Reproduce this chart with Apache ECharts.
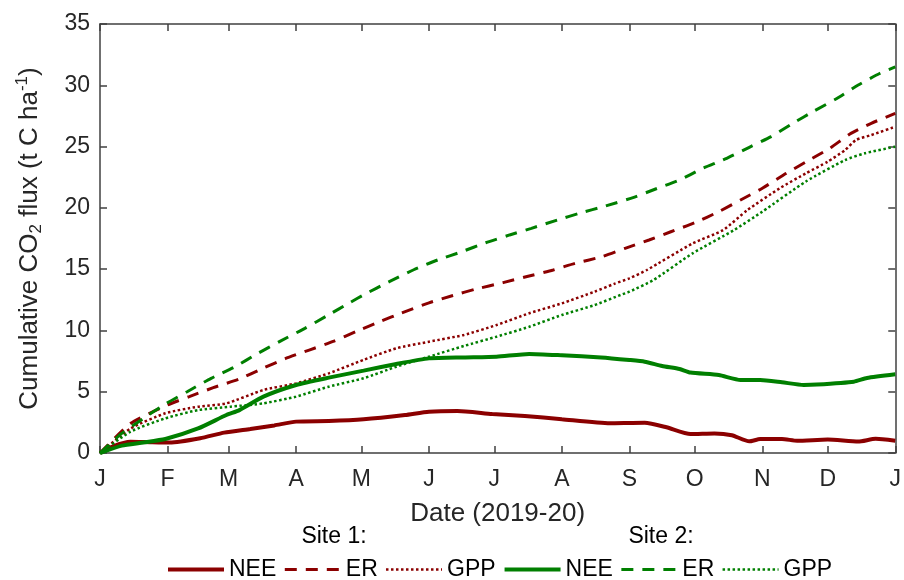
<!DOCTYPE html>
<html>
<head>
<meta charset="utf-8">
<script src="https://cdn.jsdelivr.net/npm/echarts@6/dist/echarts.min.js"></script>
<style>html,body{margin:0;padding:0;background:#fff}#c{width:904px;height:580px}</style>
</head>
<body>
<div id="c"></div>
<script>
// ---- data (day of year, cumulative flux t C/ha) ----
const monthStarts = [0, 31, 59, 90, 120, 151, 181, 212, 243, 273, 304, 334, 365];
const monthLabels = ['J', 'F', 'M', 'A', 'M', 'J', 'J', 'A', 'S', 'O', 'N', 'D', 'J'];
const yTicksMin = 0, yTicksMax = 35, yTickStep = 5;

const s1NeeDays = [0, 6, 14, 23, 32, 46, 57, 69, 80, 90, 105, 121, 140, 151, 164, 180, 195, 212, 234, 243, 250, 260, 271, 282, 290, 298, 303, 313, 320, 334, 348, 356, 365];
const s1NeeVals = [0, 0.55, 0.92, 0.88, 0.85, 1.2, 1.66, 1.96, 2.25, 2.56, 2.61, 2.75, 3.1, 3.37, 3.43, 3.18, 3.02, 2.75, 2.42, 2.45, 2.47, 2.1, 1.55, 1.6, 1.45, 0.95, 1.14, 1.14, 1.0, 1.1, 0.93, 1.16, 1.0];

const s1ErDays = [0, 14, 31, 41, 52, 64, 74, 85, 96, 107, 118, 129, 138, 151, 162, 172, 185, 196, 208, 218, 230, 241, 252, 262, 273, 284, 294, 304, 315, 325, 335, 344, 354, 365];
const s1ErVals = [0, 2.4, 3.92, 4.6, 5.33, 6.04, 6.85, 7.7, 8.4, 9.1, 9.95, 10.75, 11.4, 12.25, 12.85, 13.35, 13.9, 14.4, 14.93, 15.47, 16.0, 16.7, 17.38, 18.05, 18.79, 19.69, 20.64, 21.6, 22.82, 23.85, 24.86, 26.0, 26.9, 27.7];

const s1GppDays = [0, 14, 30, 45, 58, 75, 90, 105, 121, 136, 151, 167, 182, 197, 212, 227, 236, 243, 251, 272, 286, 297, 312, 324, 334, 342, 347, 354, 365];
const s1GppVals = [0, 2.0, 3.24, 3.78, 4.05, 5.14, 5.68, 6.5, 7.6, 8.54, 9.08, 9.63, 10.44, 11.4, 12.21, 13.16, 13.8, 14.25, 14.93, 17.1, 18.19, 19.8, 21.6, 22.82, 23.77, 24.72, 25.54, 25.94, 26.62];

const s2NeeDays = [0, 10, 19, 30, 45, 58, 64, 75, 90, 105, 121, 136, 151, 167, 182, 197, 212, 230, 243, 250, 258, 266, 271, 284, 294, 303, 313, 323, 329, 346, 352, 365];
const s2NeeVals = [0, 0.6, 0.84, 1.14, 2.0, 3.1, 3.5, 4.6, 5.55, 6.15, 6.72, 7.26, 7.72, 7.8, 7.86, 8.08, 7.97, 7.8, 7.59, 7.45, 7.1, 6.85, 6.56, 6.36, 5.96, 5.96, 5.77, 5.55, 5.58, 5.82, 6.12, 6.42];

const s2ErDays = [0, 10, 20, 30, 40, 51, 62, 72, 83, 94, 104, 115, 121, 133, 144, 155, 166, 177, 188, 198, 210, 220, 232, 245, 255, 266, 276, 287, 298, 308, 318, 328, 338, 348, 358, 365];
const s2ErVals = [0, 1.6, 2.83, 4.0, 5.0, 6.09, 7.04, 8.08, 9.15, 10.17, 11.18, 12.3, 12.9, 14.0, 14.95, 15.75, 16.42, 17.15, 17.79, 18.33, 19.01, 19.56, 20.15, 20.86, 21.54, 22.27, 23.17, 23.99, 24.94, 25.81, 26.9, 27.93, 28.9, 30.02, 30.98, 31.5];

const s2GppDays = [0, 14, 30, 45, 60, 75, 90, 105, 121, 136, 151, 167, 182, 197, 212, 227, 239, 243, 254, 272, 291, 304, 324, 342, 351, 365];
const s2GppVals = [0, 1.74, 2.83, 3.5, 3.78, 4.05, 4.6, 5.41, 6.1, 7.04, 7.86, 8.73, 9.49, 10.3, 11.26, 12.07, 12.9, 13.16, 14.11, 16.29, 18.19, 19.69, 22.15, 23.9, 24.45, 24.99];

const legendNames = ['NEE', 'ER', 'GPP'];
const siteLabels = ['Site 1:', 'Site 2:'];

// ---- build ----
const FONT = '"Liberation Sans", Arial, sans-serif';
const RED = '#8b0000', GREEN = '#007f00';
const AXC = '#404040', TXT = '#262626';
const dayCats = [];
for (let i = 0; i <= 365; i++) dayCats.push(String(i));
const pairs = (d, v) => d.map((x, i) => [x, v[i]]);
const isMonth = (idx) => monthStarts.indexOf(idx) >= 0;

const styles = {
  NEE: { type: 'solid', width: 4 },
  ER: { type: [12, 9], width: 3 },
  GPP: { type: [2.5, 2.5], width: 2.5 }
};
const defs = [
  ['Site 1 NEE', RED, 'NEE', s1NeeDays, s1NeeVals],
  ['Site 1 ER', RED, 'ER', s1ErDays, s1ErVals],
  ['Site 1 GPP', RED, 'GPP', s1GppDays, s1GppVals],
  ['Site 2 NEE', GREEN, 'NEE', s2NeeDays, s2NeeVals],
  ['Site 2 ER', GREEN, 'ER', s2ErDays, s2ErVals],
  ['Site 2 GPP', GREEN, 'GPP', s2GppDays, s2GppVals]
];
const series = defs.map(([name, color, kind, d, v]) => ({
  name, type: 'line', xAxisIndex: 0, yAxisIndex: 0,
  data: pairs(d, v), showSymbol: false, symbol: 'none',
  color, lineStyle: { color, type: styles[kind].type, width: styles[kind].width, cap: 'butt' },
  smooth: 0.2
}));

const xBase = {
  type: 'category', data: dayCats, boundaryGap: false,
  axisLine: { show: true, onZero: false, lineStyle: { color: AXC, width: 1.5 } },
  axisTick: { show: true, inside: true, length: 7, interval: isMonth, lineStyle: { color: AXC, width: 1.5 } },
  splitLine: { show: false }
};
const yBase = {
  type: 'value', min: yTicksMin, max: yTicksMax, interval: yTickStep,
  axisLine: { show: true, lineStyle: { color: AXC, width: 1.5 } },
  axisTick: { show: true, inside: true, length: 7, lineStyle: { color: AXC, width: 1.5 } },
  splitLine: { show: false }
};

const option = {
  animation: false,
  backgroundColor: '#fff',
  grid: { left: 100, top: 24, right: 4, bottom: 127, containLabel: false },
  xAxis: [
    Object.assign({}, xBase, {
      position: 'bottom',
      axisLabel: {
        show: true, interval: isMonth, margin: 15,
        fontFamily: FONT, fontSize: 23, color: TXT,
        formatter: (val, idx) => monthLabels[monthStarts.indexOf(Number(val))]
      },
      name: 'Date (2019-20)', nameLocation: 'middle', nameGap: 48,
      nameTextStyle: { fontFamily: FONT, fontSize: 26, color: TXT }
    }),
    Object.assign({}, xBase, { position: 'top', axisLabel: { show: false } })
  ],
  yAxis: [
    Object.assign({}, yBase, {
      position: 'left',
      axisLabel: { show: true, margin: 10, fontFamily: FONT, fontSize: 23, color: TXT },
      name: '{a|Cumulative CO}{sub|2}{a| flux (t C ha}{sup|-1}{a|)}',
      nameLocation: 'middle', nameGap: 55,
      nameTextStyle: {
        fontFamily: FONT, fontSize: 26, color: TXT,
        rich: {
          a: { fontFamily: FONT, fontSize: 26, color: TXT },
          sub: { fontFamily: FONT, fontSize: 17, color: TXT, padding: [14, 0, 0, 0] },
          sup: { fontFamily: FONT, fontSize: 17, color: TXT, padding: [0, 0, 14, 0] }
        }
      }
    }),
    Object.assign({}, yBase, { position: 'right', axisLabel: { show: false } })
  ],
  legend: {
    left: 161, top: 553, orient: 'horizontal',
    itemWidth: 56, itemHeight: 14, itemGap: 7,
    textStyle: { fontFamily: FONT, fontSize: 23, color: '#000' },
    itemStyle: { opacity: 0 },
    formatter: (name) => name.split(' ').pop(),
    data: defs.map(([name, color, kind]) => ({
      name,
      lineStyle: { width: styles[kind].width, type: styles[kind].type, color }
    }))
  },
  graphic: [
    { type: 'text', x: 334, y: 537, style: { text: siteLabels[0], fill: '#000', font: '23px ' + FONT, textAlign: 'center', textVerticalAlign: 'middle' } },
    { type: 'text', x: 661, y: 537, style: { text: siteLabels[1], fill: '#000', font: '23px ' + FONT, textAlign: 'center', textVerticalAlign: 'middle' } }
  ],
  series
};

const chart = echarts.init(document.getElementById('c'), null, { renderer: 'canvas' });
chart.setOption(option);
</script>
</body>
</html>
